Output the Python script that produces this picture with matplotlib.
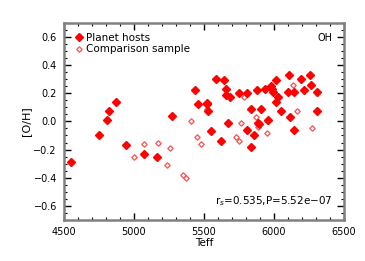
import matplotlib
matplotlib.use("Agg")
import matplotlib.pyplot as plt
from matplotlib.ticker import MultipleLocator

host_teff = [4550, 4752, 4805, 4821, 4869, 4943, 5071, 5162, 5269, 5438, 5455, 5519, 5524, 5530,
             5548, 5590, 5626, 5645, 5655, 5660, 5669, 5690, 5750, 5805, 5805, 5840, 5840, 5857,
             5883, 5888, 5892, 5905, 5940, 5960, 5983, 5990, 5995, 6012, 6014, 6031, 6048, 6110,
             6102, 6119, 6143, 6145, 6193, 6214, 6257, 6264, 6305, 6305]
host_oh = [-0.29, -0.10, 0.01, 0.07, 0.14, -0.17, -0.23, -0.25, 0.04, 0.22, 0.12, 0.12, 0.13, 0.07,
           -0.07, 0.30, -0.14, 0.29, 0.23, 0.19, -0.01, 0.17, 0.20, 0.20, -0.06, 0.09, -0.18, -0.10,
           0.22, -0.01, -0.02, 0.09, 0.23, 0.01, 0.25, 0.23, 0.21, 0.14, 0.29, 0.17, 0.07, 0.33,
           0.21, 0.03, 0.21, -0.06, 0.30, 0.22, 0.33, 0.26, 0.21, 0.07]

comp_teff = [5000, 5071, 5174, 5257, 5240, 5348, 5369, 5410, 5448, 5479, 5526, 5733, 5752, 5762,
             5786, 5869, 5888, 5948, 5952, 6138, 6169, 6276]
comp_oh = [-0.25, -0.16, -0.15, -0.19, -0.31, -0.38, -0.40, 0.00, -0.11, -0.16, 0.09, -0.11, -0.14,
           -0.01, 0.17, 0.03, -0.04, -0.08, 0.00, 0.26, 0.07, -0.05]

fig = plt.figure(figsize=(3.65, 2.61), dpi=100)
ax = fig.add_axes([0.175, 0.157, 0.767, 0.756])

red = '#ff0000'
ax.plot(comp_teff, comp_oh, linestyle='none', marker='D', markersize=2.8,
        markerfacecolor='white', markeredgecolor='#ff5050', markeredgewidth=0.9,
        label='Comparison sample', zorder=3)
ax.plot(host_teff, host_oh, linestyle='none', marker='D', markersize=3.6,
        markerfacecolor=red, markeredgecolor=red, label='Planet hosts', zorder=4)

ax.set_xlim(4500, 6500)
ax.set_ylim(-0.7, 0.7)
ax.xaxis.set_major_locator(MultipleLocator(500))
ax.xaxis.set_minor_locator(MultipleLocator(100))
yt = [-0.6, -0.4, -0.2, 0.0, 0.2, 0.4, 0.6]
ax.set_yticks(yt)
ax.set_yticklabels(['\u22120.6', '\u22120.4', '\u22120.2', '0.0', '0.2', '0.4', '0.6'])
ax.yaxis.set_minor_locator(MultipleLocator(0.05))
ax.tick_params(which='both', direction='in', top=True, right=True, labelsize=7, color='black', pad=5)
ax.tick_params(which='major', length=5, width=1)
ax.tick_params(which='minor', length=2.5, width=0.8)
for s in ax.spines.values():
    s.set_color('#808080')
    s.set_linewidth(1.8)

ax.set_xlabel('Teff', fontsize=7.5, labelpad=1)
ax.set_ylabel('[O/H]', fontsize=8, labelpad=2)

handles, labels = ax.get_legend_handles_labels()
ax.legend(handles[::-1], labels[::-1], loc='upper left', frameon=False, fontsize=7.5,
          handletextpad=0.1, handlelength=1.0, borderaxespad=0.6, labelspacing=0.1,
          borderpad=0.4)
ax.text(0.96, 0.95, 'OH', transform=ax.transAxes, ha='right', va='top', fontsize=7)
ax.text(0.96, 0.06, r'r$_s$=0.535,P=5.52e' + '\u221207',
        transform=ax.transAxes, ha='right', va='bottom', fontsize=7.5)

fig.savefig('out.png', dpi=100)
